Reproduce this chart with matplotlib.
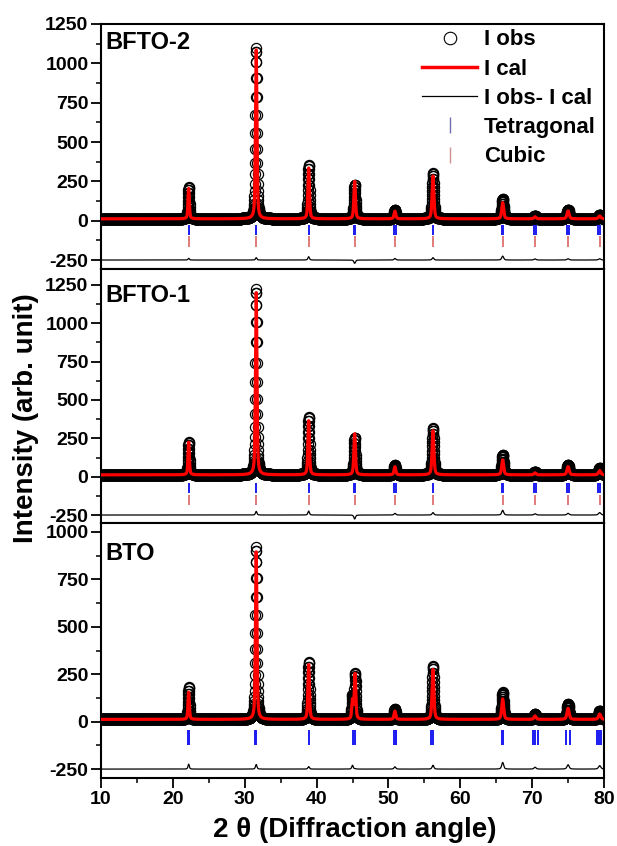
import numpy as np
import matplotlib.pyplot as plt
from matplotlib.lines import Line2D
from matplotlib.ticker import MultipleLocator

plt.rcParams['font.family'] = ['Liberation Sans', 'DejaVu Sans']
plt.rcParams['font.weight'] = 'bold'
plt.rcParams['axes.unicode_minus'] = False

# scan grid (2 theta, step 0.02 deg)
two_theta = np.arange(10, 80.001, 0.02)

# --- peak tables (heights above background) ---
bfto2_pos = [22.2, 31.6, 38.9, 45.3, 50.9, 56.2, 65.9, 70.4, 75.0, 79.4]
bfto2_fwhm = [0.22, 0.24, 0.25, 0.26, 0.28, 0.29, 0.32, 0.34, 0.36, 0.38]
bfto2_obs = [204, 1088, 344, 217, 58, 288, 128, 20, 58, 26]
bfto2_cal = [193, 1073, 323, 238, 48, 273, 103, 13, 50, 18]

bfto1_pos = [22.2, 31.6, 38.9, 45.3, 50.9, 56.2, 65.9, 70.4, 75.0, 79.4]
bfto1_fwhm = [0.22, 0.24, 0.25, 0.26, 0.28, 0.29, 0.32, 0.34, 0.36, 0.38]
bfto1_obs = [213, 1212, 379, 242, 64, 304, 129, 21, 64, 44]
bfto1_cal = [213, 1188, 353, 268, 53, 288, 98, 13, 53, 28]

bto_pos = [22.2, 31.6, 38.9, 45.0, 45.36, 50.9, 56.2, 65.9, 70.4, 75.0, 79.4]
bto_fwhm = [0.22, 0.24, 0.25, 0.24, 0.24, 0.28, 0.29, 0.32, 0.34, 0.36, 0.38]
bto_obs = [169, 907, 301, 118, 240, 55, 283, 143, 28, 81, 46]
bto_cal = [143, 883, 288, 98, 238, 43, 263, 108, 18, 58, 28]

background = 12
diff_offset = -250

# Bragg reflection markers
bfto_tetra = [22.2, 31.6, 38.9, 45.2, 45.4, 50.8, 51.0, 56.2, 65.8, 66.0,
              70.3, 70.5, 74.9, 75.1, 79.2, 79.5]
bfto_cubic = [22.2, 31.6, 38.9, 45.3, 50.9, 56.2, 65.9, 70.4, 75.0, 79.4]
bto_tetra = [22.1, 22.2, 31.5, 31.6, 38.9, 45.0, 45.4, 50.8, 51.0, 51.1,
             55.9, 56.2, 65.8, 66.0, 70.1, 70.4, 70.8, 74.7, 75.2, 79.0,
             79.3, 79.6]


def pattern(pos, fwhm, heights):
    y = np.full_like(two_theta, float(background))
    for p, w, h in zip(pos, fwhm, heights):
        d = (two_theta - p) / w
        lor = 1.0 / (1.0 + 4.0 * d ** 2)
        gau = np.exp(-4.0 * np.log(2) * d ** 2)
        y += h * (0.5 * lor + 0.5 * gau)
    return y


W, H = 617, 846
fig = plt.figure(figsize=(W / 100, H / 100), dpi=100)
left, right = 101, 604


def add_panel(top_px, bot_px):
    return fig.add_axes([left / W, 1 - bot_px / H, (right - left) / W,
                         (bot_px - top_px) / H])


panels = [
    dict(name='BFTO-2', box=(24, 269), ylim=(-307, 1250),
         pos=bfto2_pos, fwhm=bfto2_fwhm, obs=bfto2_obs, cal=bfto2_cal,
         tetra=bfto_tetra, tetra_y=(-25, -90), cubic=bfto_cubic, cubic_y=(-100, -165),
         yticks=[-250, 0, 250, 500, 750, 1000, 1250], label_y=0.925),
    dict(name='BFTO-1', box=(269, 523), ylim=(-302, 1354),
         pos=bfto1_pos, fwhm=bfto1_fwhm, obs=bfto1_obs, cal=bfto1_cal,
         tetra=bfto_tetra, tetra_y=(-40, -105), cubic=bfto_cubic, cubic_y=(-118, -184),
         yticks=[-250, 0, 250, 500, 750, 1000, 1250], label_y=0.895),
    dict(name='BTO', box=(523, 778), ylim=(-297, 1047),
         pos=bto_pos, fwhm=bto_fwhm, obs=bto_obs, cal=bto_cal,
         tetra=bto_tetra, tetra_y=(-45, -125), cubic=None, cubic_y=None,
         yticks=[-250, 0, 250, 500, 750, 1000], label_y=0.88),
]

blue = '#1c1cf0'
pink = '#e07a7a'

for i, p in enumerate(panels):
    ax = add_panel(*p['box'])
    obs = pattern(p['pos'], p['fwhm'], p['obs'])
    cal = pattern(p['pos'], p['fwhm'], p['cal'])
    ax.plot(two_theta, obs, 'o', mfc='none', mec='black', ms=7.3, mew=0.9, zorder=2)
    ax.plot(two_theta, cal, color='red', lw=2.3, zorder=3)
    ax.plot(two_theta, obs - cal + diff_offset, color='black', lw=0.9, zorder=2)
    ax.vlines(p['tetra'], *p['tetra_y'], color=blue, lw=1.4, zorder=2)
    if p['cubic'] is not None:
        ax.vlines(p['cubic'], *p['cubic_y'], color=pink, lw=1.4, zorder=2)

    ax.set_xlim(10, 80)
    ax.set_ylim(*p['ylim'])
    ax.set_yticks(p['yticks'])
    ax.yaxis.set_minor_locator(MultipleLocator(125))
    ax.xaxis.set_major_locator(MultipleLocator(10))
    ax.xaxis.set_minor_locator(MultipleLocator(5))
    ax.tick_params(which='major', direction='out', length=7, width=1.3,
                   labelsize=14, pad=2)
    ax.tick_params(which='minor', direction='out', length=3.5, width=1.1)
    ax.tick_params(axis='x', labelbottom=(i == 2))
    for s in ax.spines.values():
        s.set_linewidth(1.5)
    ax.text(0.008, p['label_y'], p['name'], transform=ax.transAxes,
            fontsize=17, fontweight='bold', va='center', ha='left')

    if i == 0:
        handles = [
            Line2D([], [], ls='none', marker='o', mfc='none', mec='black', ms=9, mew=0.8),
            Line2D([], [], color='red', lw=2.5),
            Line2D([], [], color='black', lw=0.9),
            Line2D([], [], ls='none', marker='|', color='#7070b0', ms=12, mew=1),
            Line2D([], [], ls='none', marker='|', color='#d09090', ms=12, mew=1),
        ]
        labels = ['I obs', 'I cal', 'I obs- I cal', 'Tetragonal', 'Cubic']
        ax.legend(handles, labels, loc='upper left', bbox_to_anchor=(0.638, 0.978),
                  frameon=False, fontsize=16, handlelength=2.5, handletextpad=0.3,
                  labelspacing=0.37, borderpad=0, borderaxespad=0)

fig.text(0.042, 0.506, 'Intensity (arb. unit)', rotation=90, fontsize=20,
         fontweight='bold', ha='center', va='center')
fig.text(0.575, 0.019, '2 \u03b8 (Diffraction angle)', fontsize=20,
         fontweight='bold', ha='center', va='center')

fig.savefig('out.png', dpi=100)
